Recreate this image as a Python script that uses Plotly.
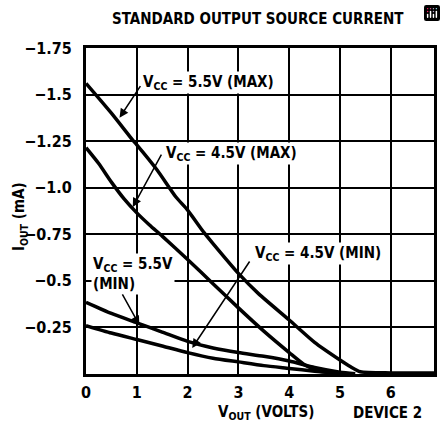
import plotly.graph_objects as go

# ---- data ----
v_55max = [0, 0.5, 0.92, 1.0, 1.4, 1.77, 2.0, 2.32, 2.5, 3.0, 3.4, 4.0, 4.5, 5.0, 5.2, 5.4, 6.0, 6.85]
i_55max = [-1.56, -1.40, -1.255, -1.23, -1.095, -0.95, -0.88, -0.76, -0.70, -0.54, -0.43, -0.29, -0.17, -0.075, -0.04, -0.012, -0.006, -0.006]

v_45max = [0, 0.25, 0.5, 0.75, 1.0, 1.25, 1.5, 2.0, 2.5, 3.0, 3.5, 4.0, 4.3, 4.6, 5.0]
i_45max = [-1.215, -1.13, -1.03, -0.94, -0.865, -0.80, -0.74, -0.615, -0.485, -0.355, -0.23, -0.115, -0.05, -0.015, -0.003]

v_55min = [0, 0.5, 1.0, 1.5, 2.0, 2.5, 3.0, 3.5, 4.0, 4.5, 5.0, 5.3]
i_55min = [-0.385, -0.325, -0.275, -0.225, -0.175, -0.14, -0.115, -0.095, -0.07, -0.035, -0.01, -0.002]

v_45min = [0, 0.5, 1.0, 1.5, 2.0, 2.5, 3.0, 3.5, 4.0, 4.5, 5.0]
i_45min = [-0.26, -0.22, -0.185, -0.15, -0.115, -0.085, -0.065, -0.045, -0.03, -0.015, -0.003]

x_ticks = [0, 1, 2, 3, 4, 5, 6]
y_ticks = [-1.75, -1.5, -1.25, -1.0, -0.75, -0.5, -0.25]
y_ticktext = ["\u22121.75", "\u22121.5", "\u22121.25", "\u22121.0", "\u22120.75", "\u22120.5", "\u22120.25"]

FONT = "DejaVu Sans Condensed, Liberation Sans, sans-serif"

fig = go.Figure()
for xs, ys in [(v_55max, i_55max), (v_45max, i_45max), (v_55min, i_55min), (v_45min, i_45min)]:
    fig.add_trace(go.Scatter(x=xs, y=ys, mode="lines", line=dict(color="black", width=3.5, shape="spline", smoothing=0.6),
                             showlegend=False, hoverinfo="skip"))

# labels with white background
labels = [
    (1.09, -1.567, "<b>V<sub>CC</sub> = 5.5V (MAX)</b>"),
    (1.54, -1.186, "<b>V<sub>CC</sub> = 4.5V (MAX)</b>"),
    (3.29, -0.649, "<b>V<sub>CC</sub> = 4.5V (MIN)</b>"),
    (0.10, -0.537, "<b>V<sub>CC</sub> = 5.5V<br>(MIN)</b>"),
]
for x, y, t in labels:
    fig.add_annotation(x=x, y=y, xref="x", yref="y", text=t, showarrow=False, xanchor="left", yanchor="middle",
                       align="left", bgcolor="white", borderpad=1,
                       font=dict(family=FONT, size=15, color="black"))

# arrows: (tail x, tail y, tip x, tip y)
arrows = [
    (1.09, -1.553, 0.66, -1.376),
    (1.50, -1.186, 0.92, -0.896),
    (3.24, -0.612, 2.09, -0.14),
    (0.70, -0.435, 1.05, -0.263),
]
for ax_, ay_, x, y in arrows:
    fig.add_annotation(x=x, y=y, ax=ax_, ay=ay_, xref="x", yref="y", axref="x", ayref="y", text="",
                       showarrow=True, arrowhead=2, arrowsize=1.2, arrowwidth=1.5, arrowcolor="black")

fig.add_annotation(x=0.493, y=1.123, xref="paper", yref="paper", showarrow=False,
                   text="<b>STANDARD OUTPUT SOURCE CURRENT</b>", font=dict(family=FONT, size=15, color="black"))
fig.add_annotation(x=-0.222, y=0.482, xref="paper", yref="paper", showarrow=False, textangle=-90,
                   text="<b>I<sub>OUT</sub> (mA)</b>", font=dict(family=FONT, size=15, color="black"))
fig.add_annotation(x=0.516, y=-0.152, xref="paper", yref="paper", showarrow=False,
                   text="<b>V<sub>OUT</sub> (VOLTS)</b>", font=dict(family=FONT, size=15, color="black"))
fig.add_annotation(x=0.972, y=-0.152, xref="paper", yref="paper", showarrow=False,
                   text="<b>DEVICE 2</b>", font=dict(family=FONT, size=15, color="black"))

fig.update_xaxes(range=[0, 6.85], tickvals=x_ticks, ticktext=["<b>%d</b>" % v for v in x_ticks],
                 showgrid=True, gridcolor="black", gridwidth=1.5, zeroline=False,
                 showline=True, linecolor="black", linewidth=3, mirror=True, ticks="",
                 ticklabelstandoff=2, tickfont=dict(family=FONT, size=16, color="black"))
fig.update_yaxes(range=[0, -1.75], tickvals=y_ticks, ticktext=["<b>%s</b>" % t for t in y_ticktext],
                 showgrid=True, gridcolor="black", gridwidth=1.5, zeroline=False,
                 showline=True, linecolor="black", linewidth=3, mirror=True, ticks="",
                 ticklabelstandoff=8, tickfont=dict(family=FONT, size=16, color="black"))

fig.update_layout(width=446, height=423, autosize=False, margin=dict(l=86, r=9, t=48, b=49),
                  plot_bgcolor="white", paper_bgcolor="white",
                  modebar=dict(bgcolor="rgba(0,0,0,0)", color="rgba(0,0,0,0)", activecolor="rgba(0,0,0,0)"))

fig.write_html("out.html", post_script="document.body.style.margin='0';document.body.style.padding='0';")
